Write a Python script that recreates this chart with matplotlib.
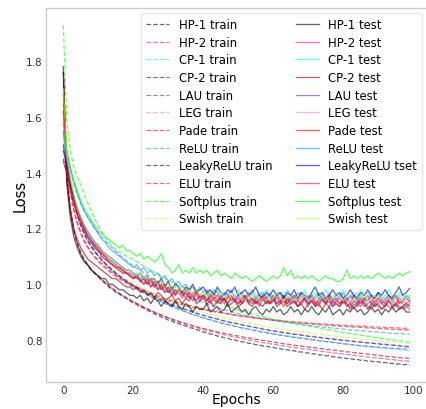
import numpy as np
import matplotlib.pyplot as plt

epochs = np.arange(100)

# training loss (dashed)
hp1_train = [1.760,1.380,1.262,1.190,1.145,1.108,1.085,1.066,1.051,1.038,
             1.026,1.012,1.003,0.990,0.982,0.971,0.965,0.955,0.949,0.940,
             0.933,0.927,0.918,0.914,0.906,0.901,0.893,0.889,0.882,0.878,
             0.871,0.868,0.862,0.859,0.853,0.850,0.844,0.842,0.837,0.834,
             0.828,0.826,0.821,0.819,0.814,0.812,0.808,0.806,0.801,0.800,
             0.796,0.793,0.792,0.788,0.787,0.783,0.782,0.778,0.778,0.774,
             0.773,0.770,0.769,0.765,0.765,0.761,0.761,0.757,0.757,0.754,
             0.753,0.750,0.750,0.746,0.746,0.743,0.743,0.739,0.740,0.736,
             0.736,0.733,0.733,0.730,0.730,0.727,0.727,0.724,0.724,0.721,
             0.722,0.718,0.719,0.716,0.716,0.713,0.714,0.711,0.712,0.710]
hp2_train = [1.620,1.370,1.258,1.192,1.146,1.110,1.087,1.067,1.052,1.039,
             1.027,1.015,1.004,0.993,0.984,0.974,0.967,0.958,0.951,0.943,
             0.936,0.929,0.923,0.916,0.911,0.904,0.899,0.893,0.888,0.882,
             0.878,0.872,0.869,0.864,0.860,0.855,0.852,0.847,0.845,0.840,
             0.837,0.833,0.831,0.827,0.825,0.821,0.819,0.815,0.813,0.810,
             0.808,0.804,0.803,0.799,0.798,0.795,0.793,0.790,0.789,0.786,
             0.785,0.782,0.781,0.778,0.777,0.774,0.773,0.771,0.769,0.767,
             0.766,0.763,0.763,0.760,0.759,0.757,0.756,0.753,0.753,0.750,
             0.750,0.747,0.747,0.744,0.744,0.741,0.741,0.738,0.738,0.736,
             0.735,0.733,0.733,0.730,0.730,0.727,0.727,0.724,0.725,0.722]
cp1_train = [1.540,1.440,1.360,1.298,1.250,1.212,1.182,1.157,1.136,1.118,
             1.102,1.087,1.073,1.061,1.049,1.038,1.028,1.018,1.009,1.000,
             0.992,0.984,0.977,0.969,0.963,0.956,0.950,0.943,0.938,0.932,
             0.926,0.921,0.916,0.911,0.906,0.901,0.897,0.892,0.889,0.884,
             0.880,0.876,0.873,0.869,0.866,0.862,0.859,0.856,0.853,0.850,
             0.847,0.844,0.842,0.839,0.837,0.834,0.832,0.829,0.828,0.825,
             0.823,0.820,0.819,0.816,0.815,0.812,0.811,0.808,0.807,0.805,
             0.804,0.801,0.800,0.798,0.797,0.794,0.794,0.791,0.790,0.788,
             0.787,0.785,0.784,0.782,0.781,0.779,0.778,0.776,0.776,0.773,
             0.773,0.771,0.770,0.768,0.768,0.766,0.765,0.763,0.763,0.761]
cp2_train = [1.720,1.390,1.268,1.196,1.150,1.113,1.089,1.069,1.054,1.041,
             1.028,1.017,1.005,0.995,0.985,0.976,0.967,0.960,0.951,0.945,
             0.937,0.931,0.924,0.918,0.912,0.906,0.900,0.895,0.890,0.885,
             0.880,0.875,0.871,0.867,0.862,0.859,0.855,0.851,0.848,0.844,
             0.841,0.838,0.835,0.832,0.829,0.826,0.824,0.821,0.819,0.816,
             0.814,0.811,0.809,0.807,0.805,0.802,0.801,0.798,0.797,0.794,
             0.793,0.790,0.789,0.786,0.785,0.783,0.781,0.779,0.778,0.776,
             0.775,0.772,0.772,0.769,0.769,0.766,0.766,0.763,0.763,0.760,
             0.760,0.757,0.757,0.754,0.754,0.752,0.751,0.749,0.748,0.746,
             0.745,0.743,0.742,0.740,0.740,0.737,0.737,0.735,0.735,0.733]
lau_train = [1.500,1.420,1.350,1.293,1.248,1.210,1.180,1.155,1.134,1.116,
             1.100,1.086,1.072,1.060,1.048,1.037,1.027,1.017,1.008,0.999,
             0.991,0.983,0.976,0.968,0.962,0.955,0.949,0.942,0.937,0.931,
             0.925,0.920,0.915,0.910,0.905,0.900,0.896,0.891,0.888,0.883,
             0.879,0.875,0.872,0.868,0.865,0.861,0.858,0.855,0.852,0.849,
             0.846,0.843,0.841,0.838,0.835,0.833,0.830,0.828,0.826,0.823,
             0.821,0.819,0.817,0.815,0.813,0.811,0.809,0.807,0.806,0.804,
             0.802,0.800,0.799,0.797,0.795,0.794,0.792,0.791,0.789,0.788,
             0.786,0.785,0.783,0.782,0.781,0.779,0.778,0.777,0.776,0.775,
             0.774,0.773,0.772,0.771,0.770,0.769,0.769,0.768,0.767,0.766]
leg_train = [1.600,1.450,1.365,1.302,1.254,1.216,1.186,1.161,1.140,1.122,
             1.106,1.091,1.077,1.065,1.053,1.042,1.032,1.022,1.013,1.005,
             0.997,0.989,0.982,0.975,0.968,0.962,0.956,0.950,0.944,0.939,
             0.933,0.928,0.923,0.918,0.914,0.909,0.905,0.901,0.897,0.893,
             0.889,0.886,0.882,0.879,0.876,0.872,0.869,0.866,0.863,0.861,
             0.858,0.855,0.853,0.850,0.848,0.845,0.843,0.841,0.838,0.836,
             0.834,0.832,0.830,0.828,0.826,0.824,0.822,0.821,0.819,0.817,
             0.815,0.814,0.812,0.811,0.809,0.808,0.806,0.805,0.803,0.802,
             0.800,0.799,0.798,0.796,0.795,0.794,0.792,0.791,0.790,0.789,
             0.788,0.786,0.785,0.784,0.783,0.782,0.781,0.780,0.779,0.777]
pade_train = [1.650,1.430,1.335,1.270,1.223,1.186,1.158,1.135,1.116,1.100,
              1.087,1.075,1.063,1.052,1.042,1.033,1.024,1.016,1.009,1.002,
              0.996,0.990,0.984,0.978,0.973,0.968,0.963,0.958,0.953,0.949,
              0.945,0.941,0.937,0.934,0.930,0.927,0.924,0.921,0.918,0.915,
              0.912,0.909,0.907,0.904,0.902,0.899,0.897,0.895,0.892,0.890,
              0.888,0.886,0.884,0.882,0.880,0.879,0.877,0.875,0.874,0.872,
              0.870,0.869,0.868,0.866,0.865,0.864,0.862,0.861,0.860,0.859,
              0.858,0.857,0.856,0.855,0.854,0.853,0.852,0.851,0.850,0.849,
              0.849,0.848,0.847,0.846,0.846,0.845,0.844,0.843,0.843,0.842,
              0.841,0.840,0.840,0.839,0.838,0.838,0.837,0.837,0.836,0.835]
relu_train = [1.550,1.470,1.410,1.360,1.320,1.290,1.265,1.240,1.220,1.200,
              1.185,1.170,1.155,1.142,1.130,1.117,1.105,1.095,1.085,1.075,
              1.065,1.057,1.049,1.041,1.033,1.025,1.018,1.011,1.004,0.997,
              0.990,0.984,0.978,0.972,0.966,0.960,0.955,0.949,0.944,0.939,
              0.934,0.929,0.925,0.920,0.916,0.912,0.908,0.905,0.901,0.898,
              0.895,0.892,0.889,0.887,0.884,0.882,0.879,0.877,0.875,0.872,
              0.870,0.868,0.866,0.864,0.862,0.861,0.859,0.857,0.855,0.854,
              0.852,0.851,0.849,0.848,0.846,0.845,0.844,0.842,0.841,0.840,
              0.839,0.837,0.836,0.835,0.834,0.833,0.832,0.831,0.830,0.829,
              0.828,0.827,0.826,0.825,0.824,0.823,0.823,0.822,0.821,0.820]
leaky_train = [1.450,1.395,1.338,1.288,1.246,1.210,1.180,1.155,1.135,1.117,
               1.101,1.087,1.074,1.062,1.051,1.040,1.030,1.021,1.012,1.004,
               0.996,0.988,0.981,0.974,0.967,0.961,0.955,0.949,0.943,0.938,
               0.932,0.927,0.922,0.917,0.913,0.908,0.904,0.900,0.896,0.892,
               0.888,0.885,0.881,0.878,0.875,0.871,0.868,0.865,0.862,0.860,
               0.857,0.854,0.851,0.849,0.846,0.844,0.841,0.839,0.837,0.834,
               0.832,0.830,0.828,0.826,0.824,0.822,0.820,0.819,0.817,0.815,
               0.813,0.812,0.810,0.809,0.807,0.806,0.804,0.803,0.801,0.800,
               0.798,0.797,0.796,0.794,0.793,0.792,0.790,0.789,0.788,0.787,
               0.786,0.784,0.783,0.782,0.781,0.780,0.778,0.777,0.776,0.774]
elu_train = [1.580,1.420,1.325,1.262,1.216,1.180,1.152,1.130,1.111,1.095,
             1.081,1.069,1.058,1.047,1.037,1.028,1.019,1.011,1.004,0.997,
             0.990,0.984,0.978,0.972,0.967,0.962,0.957,0.952,0.948,0.944,
             0.940,0.936,0.932,0.929,0.926,0.922,0.919,0.916,0.914,0.911,
             0.908,0.906,0.903,0.901,0.899,0.897,0.895,0.893,0.891,0.889,
             0.887,0.885,0.884,0.882,0.880,0.879,0.877,0.876,0.875,0.873,
             0.872,0.871,0.869,0.868,0.867,0.866,0.865,0.864,0.863,0.862,
             0.861,0.860,0.859,0.858,0.857,0.857,0.856,0.855,0.854,0.853,
             0.853,0.852,0.851,0.851,0.850,0.849,0.849,0.848,0.847,0.847,
             0.846,0.846,0.845,0.844,0.844,0.843,0.843,0.842,0.842,0.841]
softplus_train = [1.930,1.580,1.480,1.420,1.385,1.355,1.322,1.292,1.262,1.235,
                  1.210,1.188,1.168,1.150,1.136,1.124,1.115,1.108,1.101,1.095,
                  1.089,1.081,1.073,1.065,1.058,1.050,1.043,1.036,1.028,1.021,
                  1.015,1.008,1.002,0.996,0.990,0.984,0.978,0.972,0.967,0.961,
                  0.956,0.951,0.946,0.941,0.936,0.931,0.926,0.921,0.917,0.912,
                  0.908,0.904,0.901,0.897,0.894,0.890,0.887,0.884,0.881,0.878,
                  0.875,0.872,0.870,0.867,0.864,0.862,0.859,0.857,0.854,0.852,
                  0.850,0.847,0.845,0.843,0.840,0.838,0.836,0.834,0.831,0.829,
                  0.827,0.825,0.823,0.821,0.819,0.817,0.815,0.813,0.811,0.809,
                  0.807,0.806,0.804,0.802,0.801,0.799,0.797,0.796,0.794,0.793]
swish_train = [1.700,1.500,1.400,1.330,1.276,1.234,1.201,1.174,1.151,1.132,
               1.115,1.100,1.086,1.073,1.061,1.050,1.040,1.030,1.021,1.013,
               1.005,0.997,0.990,0.983,0.976,0.970,0.964,0.958,0.952,0.947,
               0.941,0.936,0.931,0.927,0.922,0.918,0.914,0.910,0.906,0.902,
               0.898,0.895,0.891,0.888,0.885,0.882,0.879,0.876,0.873,0.870,
               0.868,0.865,0.862,0.860,0.857,0.855,0.853,0.850,0.848,0.846,
               0.844,0.842,0.840,0.838,0.836,0.834,0.832,0.831,0.829,0.827,
               0.825,0.824,0.822,0.821,0.819,0.818,0.816,0.815,0.813,0.812,
               0.810,0.809,0.808,0.806,0.805,0.804,0.802,0.801,0.800,0.799,
               0.798,0.796,0.795,0.794,0.793,0.792,0.791,0.789,0.788,0.787]

# test loss (solid)
hp1_test = [1.78,1.36,1.24,1.17,1.13,1.10,1.08,1.07,1.05,1.04,
            1.03,1.02,1.02,1.00,1.00,0.99,0.98,0.98,0.97,0.96,
            0.96,0.95,0.96,0.94,0.95,0.93,0.95,0.94,0.92,0.94,
            0.93,0.92,0.94,0.92,0.91,0.93,0.92,0.90,0.92,0.91,
            0.91,0.93,0.90,0.91,0.92,0.90,0.91,0.93,0.90,0.91,
            0.92,0.90,0.91,0.89,0.91,0.92,0.90,0.89,0.91,0.90,
            0.92,0.90,0.91,0.89,0.90,0.92,0.90,0.91,0.89,0.91,
            0.90,0.92,0.90,0.89,0.91,0.90,0.92,0.89,0.90,0.91,
            0.89,0.91,0.90,0.92,0.90,0.91,0.89,0.90,0.92,0.90,
            0.91,0.89,0.91,0.90,0.92,0.90,0.91,0.92,0.90,0.90]
hp2_test = [1.62,1.44,1.36,1.30,1.25,1.22,1.19,1.17,1.15,1.13,
            1.12,1.10,1.09,1.08,1.07,1.06,1.05,1.04,1.04,1.03,
            1.02,1.03,1.01,1.02,1.00,1.01,0.99,1.00,0.98,0.99,
            0.97,0.98,0.96,0.98,0.96,0.97,0.95,0.97,0.96,0.94,
            0.96,0.95,0.93,0.95,0.96,0.94,0.95,0.93,0.96,0.94,
            0.95,0.93,0.94,0.96,0.94,0.93,0.95,0.94,0.96,0.93,
            0.94,0.95,0.93,0.96,0.94,0.95,0.93,0.94,0.96,0.94,
            0.93,0.95,0.94,0.93,0.96,0.94,0.95,0.93,0.94,0.95,
            0.93,0.94,0.96,0.94,0.93,0.95,0.94,0.96,0.93,0.94,
            0.95,0.93,0.94,0.96,0.94,0.93,0.95,0.94,0.93,0.94]
cp1_test = [1.52,1.44,1.37,1.31,1.27,1.23,1.20,1.18,1.16,1.14,
            1.13,1.11,1.10,1.09,1.08,1.07,1.06,1.05,1.04,1.04,
            1.03,1.02,1.03,1.01,1.02,1.00,1.01,0.99,1.00,0.98,
            0.99,0.97,0.99,0.98,0.96,0.98,0.97,0.96,0.98,0.96,
            0.97,0.95,0.97,0.96,0.98,0.95,0.96,0.97,0.95,0.96,
            0.98,0.96,0.95,0.97,0.96,0.95,0.97,0.96,0.98,0.95,
            0.96,0.97,0.95,0.96,0.98,0.96,0.95,0.97,0.96,0.98,
            0.95,0.96,0.97,0.95,0.96,0.98,0.96,0.95,0.97,0.96,
            0.98,0.95,0.96,0.97,0.95,0.98,0.96,0.97,0.95,0.96,
            0.97,0.95,0.96,0.98,0.96,0.95,0.97,0.96,0.95,0.96]
cp2_test = [1.76,1.38,1.27,1.20,1.16,1.13,1.11,1.09,1.08,1.07,
            1.06,1.05,1.04,1.03,1.02,1.02,1.01,1.00,0.99,0.99,
            0.98,0.99,0.97,0.98,0.96,0.97,0.95,0.97,0.96,0.94,
            0.95,0.96,0.94,0.95,0.93,0.95,0.94,0.96,0.93,0.94,
            0.95,0.93,0.94,0.92,0.94,0.93,0.95,0.92,0.93,0.94,
            0.92,0.93,0.95,0.93,0.92,0.94,0.93,0.92,0.94,0.93,
            0.95,0.92,0.93,0.94,0.92,0.93,0.94,0.92,0.93,0.91,
            0.93,0.94,0.92,0.93,0.91,0.93,0.94,0.92,0.93,0.92,
            0.94,0.93,0.91,0.93,0.92,0.94,0.93,0.91,0.93,0.92,
            0.93,0.91,0.92,0.94,0.92,0.93,0.91,0.92,0.93,0.92]
lau_test = [1.50,1.43,1.36,1.31,1.26,1.23,1.20,1.18,1.16,1.14,
            1.13,1.11,1.10,1.09,1.08,1.07,1.06,1.05,1.04,1.04,
            1.03,1.02,1.02,1.00,1.01,0.99,1.00,0.98,0.99,0.97,
            0.98,0.96,0.97,0.98,0.96,0.97,0.95,0.96,0.94,0.96,
            0.95,0.97,0.94,0.95,0.96,0.94,0.95,0.93,0.95,0.94,
            0.96,0.93,0.95,0.94,0.93,0.95,0.94,0.96,0.93,0.94,
            0.95,0.93,0.94,0.96,0.93,0.94,0.95,0.92,0.94,0.95,
            0.93,0.94,0.92,0.95,0.94,0.93,0.95,0.92,0.94,0.93,
            0.95,0.93,0.92,0.94,0.93,0.95,0.92,0.93,0.94,0.92,
            0.94,0.93,0.92,0.94,0.93,0.92,0.94,0.93,0.92,0.93]
leg_test = [1.58,1.45,1.37,1.31,1.27,1.23,1.21,1.18,1.16,1.15,
            1.13,1.12,1.10,1.09,1.08,1.07,1.06,1.06,1.05,1.04,
            1.03,1.04,1.02,1.03,1.01,1.02,1.00,1.01,0.99,1.00,
            0.98,0.99,0.97,0.98,0.96,0.98,0.97,0.95,0.97,0.96,
            0.95,0.97,0.96,0.94,0.96,0.95,0.97,0.94,0.95,0.96,
            0.94,0.96,0.95,0.97,0.94,0.95,0.96,0.94,0.95,0.97,
            0.95,0.94,0.96,0.95,0.94,0.96,0.95,0.97,0.94,0.95,
            0.96,0.94,0.95,0.96,0.94,0.95,0.97,0.95,0.94,0.96,
            0.95,0.94,0.96,0.95,0.97,0.94,0.95,0.96,0.94,0.95,
            0.96,0.95,0.94,0.96,0.95,0.94,0.96,0.95,0.94,0.95]
pade_test = [1.68,1.46,1.37,1.31,1.26,1.23,1.20,1.17,1.15,1.14,
             1.12,1.11,1.10,1.08,1.07,1.06,1.06,1.05,1.04,1.03,
             1.02,1.03,1.01,1.02,1.00,1.02,0.99,1.01,0.98,1.00,
             0.97,0.99,0.96,0.98,0.97,0.95,0.97,0.96,0.98,0.95,
             0.96,0.94,0.96,0.95,0.93,0.96,0.94,0.95,0.96,0.94,
             0.93,0.95,0.96,0.94,0.95,0.93,0.94,0.96,0.95,0.93,
             0.94,0.96,0.94,0.95,0.93,0.95,0.96,0.94,0.93,0.95,
             0.94,0.96,0.93,0.94,0.95,0.93,0.96,0.94,0.95,0.93,
             0.94,0.95,0.93,0.96,0.94,0.93,0.95,0.94,0.96,0.93,
             0.95,0.94,0.93,0.95,0.94,0.96,0.93,0.94,0.95,0.94]
relu_test = [1.54,1.48,1.42,1.37,1.33,1.29,1.26,1.24,1.22,1.20,
             1.18,1.16,1.15,1.13,1.12,1.11,1.10,1.09,1.08,1.07,
             1.06,1.07,1.05,1.06,1.04,1.05,1.03,1.04,1.02,1.03,
             1.01,1.02,1.00,1.01,0.99,1.00,0.98,0.99,0.97,0.99,
             0.97,0.98,0.96,0.98,0.97,0.95,0.97,0.96,0.98,0.95,
             0.96,0.97,0.95,0.96,0.98,0.95,0.96,0.97,0.95,0.96,
             0.94,0.96,0.97,0.95,0.96,0.94,0.96,0.95,0.97,0.95,
             0.94,0.96,0.95,0.97,0.94,0.95,0.96,0.94,0.96,0.95,
             0.97,0.94,0.95,0.96,0.94,0.96,0.95,0.94,0.96,0.95,
             0.97,0.94,0.95,0.96,0.94,0.96,0.95,0.94,0.96,0.95]
leaky_test = [1.48,1.42,1.36,1.31,1.27,1.24,1.21,1.19,1.17,1.15,
              1.14,1.12,1.11,1.10,1.09,1.08,1.07,1.06,1.05,1.05,
              1.04,1.03,1.04,1.02,1.03,1.01,1.02,1.00,1.02,0.99,
              1.01,0.98,1.00,0.99,0.97,0.99,0.98,1.00,0.97,0.98,
              0.99,0.97,0.98,0.96,0.99,0.97,0.96,0.98,0.97,0.99,
              0.96,0.97,0.98,0.96,0.97,0.99,0.96,0.95,0.97,0.96,
              0.98,0.96,0.97,0.95,0.97,0.96,0.98,0.95,0.97,0.96,
              0.95,0.97,0.99,0.96,0.97,0.95,0.96,0.98,0.96,0.97,
              0.95,0.96,0.98,0.96,0.95,0.97,0.96,0.98,0.96,0.95,
              0.97,0.96,0.98,0.96,0.95,0.97,0.99,0.96,0.97,0.985]
elu_test = [1.44,1.40,1.34,1.29,1.25,1.22,1.19,1.17,1.15,1.13,
            1.12,1.10,1.09,1.08,1.07,1.06,1.05,1.04,1.04,1.03,
            1.02,1.03,1.01,1.00,1.02,0.99,1.01,0.98,1.00,0.97,
            0.99,0.96,0.98,0.97,0.95,0.98,0.96,0.94,0.97,0.95,
            0.96,0.94,0.95,0.97,0.94,0.95,0.93,0.96,0.94,0.95,
            0.93,0.94,0.96,0.93,0.95,0.94,0.92,0.95,0.93,0.94,
            0.96,0.93,0.94,0.92,0.95,0.93,0.94,0.92,0.93,0.95,
            0.92,0.94,0.93,0.92,0.95,0.93,0.92,0.94,0.93,0.92,
            0.94,0.92,0.93,0.91,0.93,0.92,0.94,0.92,0.91,0.93,
            0.92,0.91,0.93,0.92,0.91,0.93,0.92,0.91,0.92,0.91]
softplus_test = [1.55,1.47,1.41,1.37,1.33,1.30,1.27,1.25,1.23,1.21,
                 1.19,1.18,1.17,1.16,1.15,1.14,1.13,1.14,1.12,1.12,
                 1.11,1.10,1.11,1.09,1.10,1.09,1.08,1.09,1.11,1.07,
                 1.06,1.04,1.05,1.07,1.04,1.05,1.04,1.06,1.04,1.05,
                 1.04,1.05,1.03,1.04,1.05,1.03,1.04,1.03,1.02,1.04,
                 1.03,1.02,1.03,1.02,1.01,1.02,1.03,1.02,1.01,1.02,
                 1.03,1.02,1.03,1.06,1.03,1.05,1.02,1.03,1.02,1.03,
                 1.02,1.03,1.02,1.01,1.02,1.03,1.02,1.02,1.01,1.01,
                 1.02,1.05,1.02,1.03,1.02,1.03,1.02,1.03,1.02,1.03,
                 1.04,1.03,1.02,1.03,1.02,1.03,1.04,1.03,1.04,1.045]
swish_test = [1.70,1.47,1.38,1.32,1.27,1.24,1.21,1.19,1.17,1.15,
              1.14,1.12,1.11,1.10,1.09,1.08,1.07,1.06,1.05,1.05,
              1.04,1.03,1.04,1.02,1.03,1.01,1.02,1.00,1.01,0.99,
              1.00,0.98,0.99,0.97,0.99,0.97,0.98,0.96,0.98,0.96,
              0.97,0.95,0.97,0.96,0.95,0.97,0.96,0.94,0.96,0.95,
              0.97,0.95,0.94,0.96,0.95,0.97,0.94,0.95,0.96,0.94,
              0.95,0.97,0.95,0.94,0.96,0.95,0.94,0.96,0.95,0.97,
              0.94,0.95,0.96,0.94,0.95,0.96,0.94,0.95,0.97,0.95,
              0.94,0.96,0.95,0.94,0.96,0.95,0.97,0.94,0.95,0.96,
              0.94,0.95,0.96,0.95,0.94,0.96,0.95,0.94,0.95,0.95]

names = ["HP-1", "HP-2", "CP-1", "CP-2", "LAU", "LEG", "Pade", "ReLU",
         "LeakyReLU", "ELU", "Softplus", "Swish"]
colors = ["black", "deeppink", "cyan", "darkred", "rebeccapurple", "violet",
          "red", "dodgerblue", "darkblue", "crimson", "lime", "greenyellow"]
train = [hp1_train, hp2_train, cp1_train, cp2_train, lau_train, leg_train,
         pade_train, relu_train, leaky_train, elu_train, softplus_train, swish_train]
test = [hp1_test, hp2_test, cp1_test, cp2_test, lau_test, leg_test,
        pade_test, relu_test, leaky_test, elu_test, softplus_test, swish_test]
test_labels = [n + " test" for n in names]
test_labels[8] = "LeakyReLU tset"  # as in the original figure

fig = plt.figure(figsize=(4.26, 4.10), dpi=100)
ax = fig.add_axes([46 / 426, 27 / 410, 381 / 426, 374 / 410])

for name, c, y in zip(names, colors, train):
    ax.plot(epochs, y, "--", color=c, alpha=0.6, lw=0.9, label=name + " train")
for lab, c, y in zip(test_labels, colors, test):
    ax.plot(epochs, y, "-", color=c, alpha=0.6, lw=0.95, label=lab)

ax.set_xlabel("Epochs", fontsize=10)
ax.set_ylabel("Loss", fontsize=10.5)
ax.xaxis.set_label_coords(0.5, -0.026)
ax.yaxis.set_label_coords(-0.047, 0.5)
ax.set_yticks([0.8, 1.0, 1.2, 1.4, 1.6, 1.8])
ax.tick_params(labelsize=7.5, length=1.5, width=0.6, color="#cccccc",
               labelcolor="#333333", pad=1)
for s in ax.spines.values():
    s.set_color("#cccccc")
    s.set_linewidth(1.0)

ax.legend(ncol=2, fontsize=8.4, labelspacing=0.4, loc="upper right",
          edgecolor="#e0e0e0", fancybox=True, borderaxespad=0.45)

fig.savefig("out.png", dpi=100)
